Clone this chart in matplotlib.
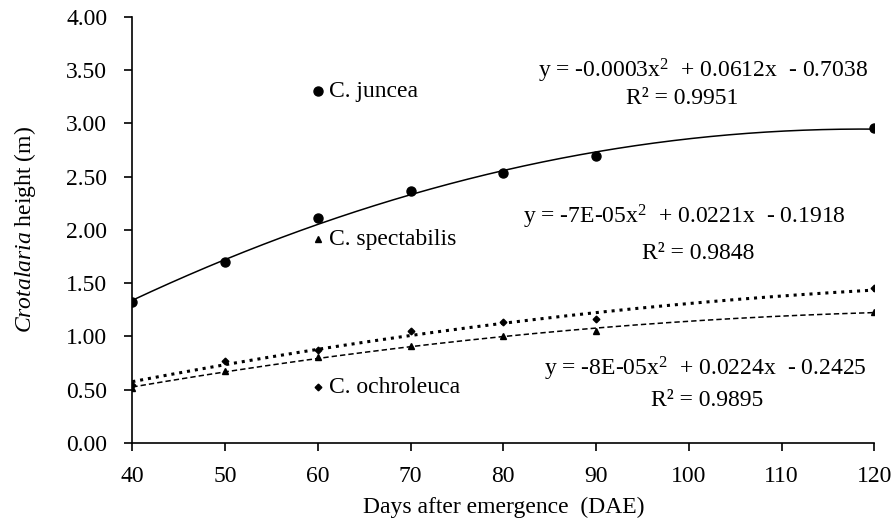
import numpy as np
import matplotlib
matplotlib.use("Agg")
import matplotlib.pyplot as plt

plt.rcParams['font.family'] = ['Liberation Serif', 'DejaVu Serif']
plt.rcParams['mathtext.fontset'] = 'custom'
plt.rcParams['mathtext.rm'] = 'Liberation Serif'
plt.rcParams['mathtext.it'] = 'Liberation Serif:italic'

days = [40, 50, 60, 70, 80, 90, 120]
juncea = [1.32, 1.70, 2.11, 2.36, 2.53, 2.69, 2.96]
ochroleuca = [0.54, 0.77, 0.87, 1.05, 1.13, 1.16, 1.45]
spectabilis = [0.51, 0.67, 0.81, 0.91, 1.00, 1.05, 1.23]

eq_juncea = ["y = -0.0003x$^2$  + 0.0612x  - 0.7038", "R² = 0.9951"]
eq_upper = ["y = -7E-05x$^2$  + 0.0221x  - 0.1918", "R² = 0.9848"]
eq_lower = ["y = -8E-05x$^2$  + 0.0224x  - 0.2425", "R² = 0.9895"]

fig = plt.figure(figsize=(8.94, 5.24), dpi=100)
ax = fig.add_axes([0.148, 0.155, 0.830, 0.813])

x = np.array(days, dtype=float)
xs = np.linspace(40, 120, 200)
fs = 17

for vals, mk, ms, ls, lw in [
    (juncea, 'o', 6.5, '-', 1.1),
    (ochroleuca, 'D', 3.4, (0, (1.0, 1.6)), 2.2),
    (spectabilis, '^', 4.3, (0, (3.5, 2.0)), 1.1),
]:
    v = np.array(vals)
    c = np.polyfit(x, v, 2)
    ax.plot(xs, np.polyval(c, xs), color='black', lw=lw, linestyle=ls, zorder=2)
    ax.plot(x, v, linestyle='none', marker=mk, ms=ms, color='black', zorder=3)

# in-plot labels
ax.plot([60.05], [3.30], 'o', ms=6.5, color='black')
ax.text(61.2, 3.30, "C. juncea", fontsize=fs, va='center', ha='left')
ax.plot([60.05], [1.91], '^', ms=4.3, color='black')
ax.text(61.2, 1.91, "C. spectabilis", fontsize=fs, va='center', ha='left')
ax.plot([60.05], [0.52], 'D', ms=3.4, color='black')
ax.text(61.2, 0.52, "C. ochroleuca", fontsize=fs, va='center', ha='left')

ax.text(101.5, 3.49, eq_juncea[0], fontsize=fs, ha='center', va='center')
ax.text(99.3, 3.23, eq_juncea[1], fontsize=fs, ha='center', va='center')
ax.text(99.5, 2.12, eq_upper[0], fontsize=fs, ha='center', va='center')
ax.text(101.0, 1.78, eq_upper[1], fontsize=fs, ha='center', va='center')
ax.text(101.8, 0.69, eq_lower[0], fontsize=fs, ha='center', va='center')
ax.text(102.0, 0.40, eq_lower[1], fontsize=fs, ha='center', va='center')

ax.set_xlim(40, 120)
ax.set_ylim(0, 4)
ax.set_xticks(np.arange(40, 121, 10))
ax.set_yticks(np.arange(0, 4.01, 0.5))
ax.set_yticklabels([f"{t:.2f}" for t in np.arange(0, 4.01, 0.5)])
ax.tick_params(direction='out', length=6, width=1.2, labelsize=fs, color='black')
ax.tick_params(axis='y', pad=12)
ax.tick_params(axis='x', pad=11)
for s in ['top', 'right']:
    ax.spines[s].set_visible(False)
for s in ['left', 'bottom']:
    ax.spines[s].set_linewidth(1.2)

ax.set_xlabel("Days after emergence  (DAE)", fontsize=fs, labelpad=7)
ax.set_ylabel("$\\it{Crotalaria}$ height (m)", fontsize=fs, labelpad=20)

fig.savefig("out.png", dpi=100)
